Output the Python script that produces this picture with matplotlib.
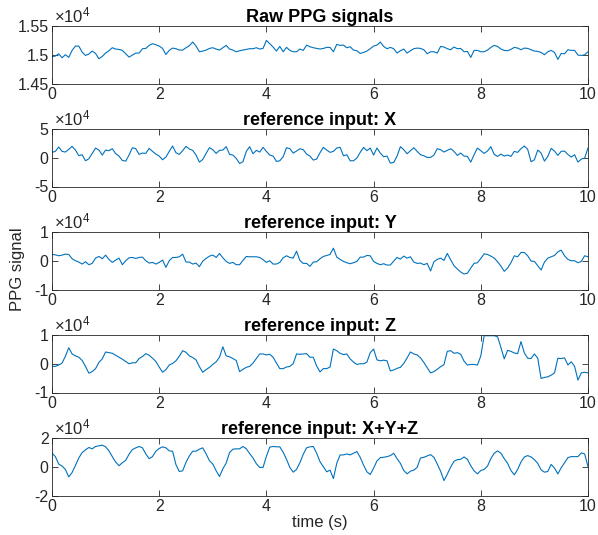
import numpy as np
import matplotlib
matplotlib.use("Agg")
import matplotlib.pyplot as plt
from matplotlib.ticker import FuncFormatter

# ---- data ----
fs = 16.0
n_samples = 161
t = np.arange(n_samples) / fs  # 0 .. 10 s

raw_ppg = [14965, 14977, 15017, 14948, 15000, 14954, 15076, 15151, 15151, 15046,
           14988, 15012, 15064, 15023, 14930, 14971, 15029, 15070, 15122, 15099,
           15093, 15076, 15017, 14959, 14994, 15029, 15029, 15105, 15110, 15163,
           15192, 15174, 15151, 15110, 15006, 15076, 15116, 15105, 15081, 15081,
           15122, 15157, 15221, 15151, 15052, 15064, 15081, 15110, 15122, 15099,
           15081, 15122, 15163, 15099, 15081, 15052, 15070, 15081, 15093, 15105,
           15105, 15122, 15099, 15110, 15250, 15192, 15134, 15064, 15145, 15052,
           15128, 15076, 15052, 15052, 15099, 15076, 15168, 15139, 15122, 15110,
           15099, 15110, 15128, 15128, 15052, 15180, 15163, 15168, 15122, 15139,
           15081, 15070, 15023, 15041, 15064, 15105, 15151, 15168, 15221, 15145,
           15105, 15128, 15105, 15029, 15070, 15099, 15029, 15070, 15105, 15116,
           15110, 15087, 15017, 15052, 15052, 15029, 15145, 15134, 15105, 15087,
           15134, 15105, 15110, 15052, 15058, 14954, 15076, 15076, 15052, 15052,
           15081, 15128, 15163, 15145, 15099, 15076, 15070, 15093, 15128, 15116,
           15087, 15116, 15110, 15087, 15064, 15058, 15041, 15000, 15052, 15076,
           15041, 14919, 15023, 15017, 15087, 15076, 15076, 14994, 14988, 15000,
           15052]

ref_x = [9330, 11080, 18660, 11080, 9910, 14580, 19820, 13410, 3500, 5250,
         -5250, -1750, 7580, 16910, 13410, 4670, 13410, 12250, 15740, 7000,
         2920, -4660, -5830, 4670, 17490, 15740, 5830, 8160, 7580, 16330,
         11080, 6420, 2920, -3500, 1170, 11080, 20410, 8750, 5830, 12250,
         19820, 15160, 12830, 4670, -7580, -2910, 7580, 17490, 13990, 7580,
         12830, 13410, 19240, 5830, 4670, -1160, -9910, -6990, 11080, 19240,
         7000, 12830, 9910, 18080, 11080, 4670, 2920, -6410, -5250, 1750,
         17490, 15740, 8160, 11660, 15740, 13990, 6420, 2920, -4080, -2330,
         8750, 18080, 13410, 9330, 11080, 16910, 18080, 3500, 5250, -5250,
         -5250, -580, 9330, 18080, 12250, 16910, 4670, 16910, 8160, 1750,
         2920, -9330, -8160, 2920, 19240, 13990, 7000, 12250, 17490, 11080,
         5250, 3500, 580, 580, 4670, 15740, 13990, 9910, 12830, 15740,
         11080, 4080, 8160, 2920, 2330, -7580, 5250, 16910, 12250, 7580,
         11660, 19240, 5830, 2330, 6420, 2920, 4670, 2330, 11080, 9330,
         15740, 20410, 14580, -6990, -3500, 13410, 8160, -5830, 2330, 16330,
         11660, 4080, 11080, 11660, 5830, 1170, 5250, -7580, -2330, -580,
         16910]

ref_y = [2185, 2070, 1725, 1955, 2300, 2185, 690, 0, -460, -1150,
         -345, -1380, -920, 920, 1495, 690, 1955, 460, -575, 230,
         920, -1380, 0, 1035, 1150, 805, 1150, 1265, 0, -805,
         -575, -1150, -575, 230, -2300, 0, 1150, 1150, 1380, 2300,
         -460, -460, -1150, -805, -2070, -115, 805, 1610, 1955, 1150,
         2530, 1035, -230, -920, -575, -1380, -1380, 115, 1495, 1380,
         1380, 1380, 1150, 345, -575, 0, -1150, -1150, -575, 1035,
         1725, 1150, 920, 3335, 115, -920, -920, -1955, -460, -345,
         690, 1495, 1840, 2185, 4370, 1265, 460, -230, -690, -1035,
         -690, -230, 1265, 1265, 1840, 1725, -230, -920, -1380, -1035,
         -1495, -1495, -115, 1150, 575, 1610, 920, 1380, -460, -920,
         -805, -1380, -920, -3565, -345, 460, 920, 115, 2530, 345,
         -1725, -2875, -3910, -4600, -4370, -2530, -920, -690, 805, 2415,
         2185, 1610, 920, -345, -1840, -3680, -2530, -690, 1725, 1380,
         2875, 2875, 1725, -115, -230, -1725, -3220, -460, 920, 1380,
         1840, 3105, 3680, 1725, 460, 0, 0, -690, -230, 1725,
         1380]

ref_z = [-910, -910, -450, 230, 2610, 5570, 3410, 2730, 2270, 1140,
         -910, -3290, -2730, -1700, 450, 1700, 4090, 3860, 3640, 2950,
         2270, 1590, 800, 0, 340, 340, 1820, 2500, 3520, 2950,
         1930, 800, -1140, -2950, -2040, -450, 110, 1020, 2610, 4540,
         3980, 2730, 2160, 1360, -1020, -2950, -2040, -1250, -230, 680,
         2270, 5910, 2730, 2390, 1820, 1140, -2730, -1930, -1250, -910,
         230, 1820, 3410, 3410, 3070, 3290, 2270, 230, -1700, -1700,
         -1140, -910, 0, 3410, 3290, 3410, 3520, 2270, 2270, -800,
         -2840, -1700, -1700, -1140, 5110, 4540, 3640, 3180, 3410, 1700,
         570, -230, 0, 0, 570, 3860, 5110, 1360, 1020, 1250,
         1020, -2500, -2160, -1590, -1250, 110, 2040, 4090, 3410, 3070,
         2040, 450, -1360, -3180, -2730, -1930, -1020, -340, 4320, 4540,
         3640, 3860, 3290, 910, -450, -230, -230, -450, 2730, 9750,
         9750, 9750, 9750, 9400, 5680, 1700, 4660, 4320, 3750, 3520,
         7720, 3750, 1930, 1820, 3410, 1930, -5110, -4770, -4540, -3980,
         -3180, 1930, 1820, 2040, -450, 680, -910, -5680, -3180, -2950,
         -3180]

ref_xyz = [9400, 7050, 1880, 470, -1880, -7050, -4000, 940, 6110, 9870,
           11750, 13400, 12460, 14100, 14570, 15040, 13870, 11050, 7050, 3290,
           705, 2820, 4470, 8700, 11990, 13160, 14100, 13160, 8930, 5640,
           7050, 10810, 12690, 13870, 13160, 11050, 10810, 1410, -3290, -2820,
           3060, 7520, 10810, 10810, 12220, 13160, 8930, 4230, 1880, -2820,
           -6820, -1410, 2590, 9870, 12220, 12460, 12460, 14100, 12460, 9170,
           6110, 2120, -470, -470, 7290, 13630, 14100, 13870, 13870, 10100,
           5170, -470, -3760, -1880, 2820, 8700, 13160, 13870, 14100, 9400,
           3530, 0, -3530, -2350, -8230, 2350, 8230, 8230, 8930, 8230,
           9400, 10580, 6580, 1180, -3530, -5410, -940, 4000, 6350, 6580,
           7050, 7760, 9400, 5640, 2350, -2590, -4940, -3060, -2350, -470,
           6110, 6580, 7520, 8460, 6580, 1880, -3060, -9640, -5170, -235,
           3760, 4940, 5170, 6820, 5170, 705, -2820, -4940, -2590, -1880,
           470, 5640, 9400, 11050, 9400, 5640, 2350, -2590, -5640, -1880,
           3290, 6820, 7760, 6820, 4940, 2350, -2120, -3760, -3290, 1650,
           -940, -4940, -705, 2820, 6350, 7050, 7050, 7050, 9640, 8930,
           0]

titles = ["Raw PPG signals", "reference input: X", "reference input: Y",
          "reference input: Z", "reference input: X+Y+Z"]
series = [raw_ppg, ref_x, ref_y, ref_z, ref_xyz]
ylims = [(14500, 15500), (-50000, 50000), (-10000, 10000),
         (-10000, 10000), (-20000, 20000)]
yticks = [[14500, 15000, 15500], [-50000, 0, 50000], [-10000, 0, 10000],
          [-10000, 0, 10000], [-20000, 0, 20000]]
xticks = [0, 2, 4, 6, 8, 10]
y_label = "PPG signal"
x_label = "time (s)"

# ---- style ----
plt.rcParams['font.family'] = ['Liberation Sans', 'DejaVu Sans']
plt.rcParams['axes.unicode_minus'] = False
plt.rcParams['mathtext.fontset'] = 'custom'
plt.rcParams['mathtext.rm'] = 'Liberation Sans'
plt.rcParams['mathtext.it'] = 'Liberation Sans'
line_color = '#0072BD'
ax_color = '#262626'

W, H = 598, 535
fig = plt.figure(figsize=(W / 100, H / 100), dpi=100)

left_px, right_px = 52, 588
top0, step, hgt = 26, 103.0, 57.5

fmt = FuncFormatter(lambda v, p: f"{v / 1e4:g}")

axes = []
for i in range(5):
    top = top0 + step * i
    rect = [left_px / W, 1 - (top + hgt) / H, (right_px - left_px) / W, hgt / H]
    ax = fig.add_axes(rect)
    ax.plot(t, series[i], color=line_color, lw=0.8)
    ax.set_xlim(0, 10)
    ax.set_ylim(*ylims[i])
    ax.set_xticks(xticks)
    ax.set_yticks(yticks[i])
    ax.yaxis.set_major_formatter(fmt)
    ax.tick_params(direction='in', length=4, width=0.6, colors=ax_color,
                   labelsize=11.5, top=True, right=True, pad=2.5)
    for sp in ax.spines.values():
        sp.set_color(ax_color)
        sp.set_linewidth(0.6)
    ax.set_title(titles[i], fontsize=13, fontweight='bold', pad=3, color='black')
    ax.text(0.004, 1.012, "\u00d710$^{4}$", transform=ax.transAxes,
            ha='left', va='bottom', fontsize=12, color=ax_color)
    axes.append(ax)

fig.text(18 / W, 1 - 269 / H, y_label, rotation=90,
         ha='center', va='center', fontsize=12, color=ax_color)
fig.text((left_px + right_px) / 2 / W, 1 - 523 / H, x_label,
         ha='center', va='center', fontsize=12, color=ax_color)

fig.savefig("out.png", dpi=100)
